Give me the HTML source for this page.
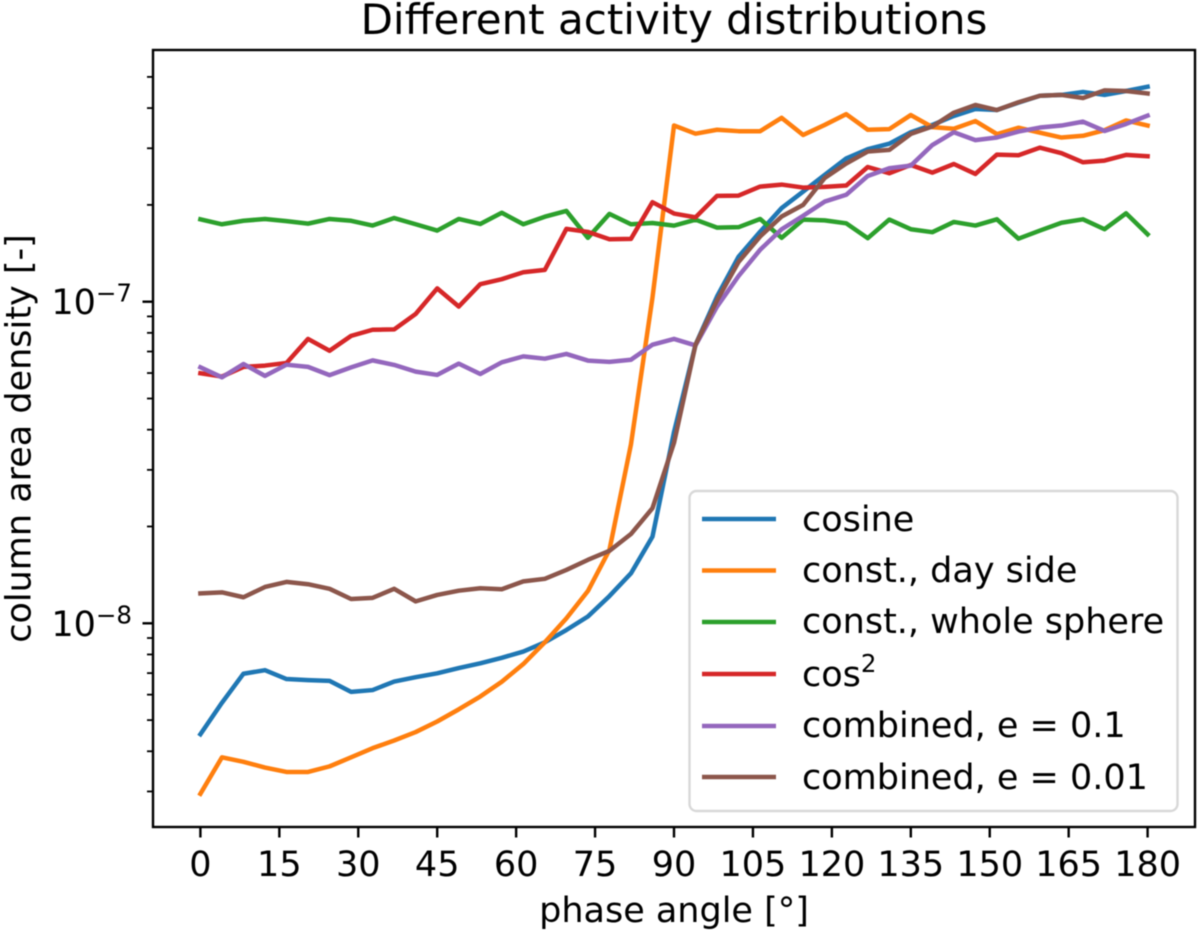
<!DOCTYPE html>
<html>
<head>
<meta charset="utf-8">
<title>Different activity distributions</title>
<style>
html,body{margin:0;padding:0;background:#fff;}
svg{display:block;filter:blur(0.5px);}
text{font-family:"DejaVu Sans","Liberation Sans",sans-serif;fill:#000;}
</style>
</head>
<body>
<svg id="chart" width="1200" height="932" viewBox="0 0 1200 932" xmlns="http://www.w3.org/2000/svg">
  <rect width="1200" height="932" fill="#fff"/>
  <text x="674" y="34" font-size="42" text-anchor="middle">Different activity distributions</text>
  <g id="series-layer"></g>
  <g id="tick-layer"></g>
  <rect x="153" y="50" width="1042" height="777" fill="none" stroke="#000" stroke-width="2.4"/>
  <text x="674" y="922" font-size="35" text-anchor="middle">phase angle [°]</text>
  <text transform="translate(30.5,438.5) rotate(-90)" font-size="35" text-anchor="middle">column area density [-]</text>
  <g>
    <rect x="689.5" y="491" width="488" height="320" rx="7" ry="7" fill="#fff" fill-opacity="0.8" stroke="#d8d8d8" stroke-width="2.4"/>
    <g>
      <line x1="702" x2="776" y1="519" y2="519" stroke="#1f77b4" stroke-width="4.5"/>
      <text x="802" y="531" font-size="35">cosine</text>
    </g>
    <g>
      <line x1="702" x2="776" y1="570.5" y2="570.5" stroke="#ff7f0e" stroke-width="4.5"/>
      <text x="802" y="582" font-size="35">const., day side</text>
    </g>
    <g>
      <line x1="702" x2="776" y1="622" y2="622" stroke="#2ca02c" stroke-width="4.5"/>
      <text x="802" y="633" font-size="35">const., whole sphere</text>
    </g>
    <g>
      <line x1="702" x2="776" y1="674" y2="674" stroke="#d62728" stroke-width="4.5"/>
      <text x="802" y="686" font-size="35">cos<tspan font-size="24.5" dy="-14">2</tspan></text>
    </g>
    <g>
      <line x1="702" x2="776" y1="726" y2="726" stroke="#9467bd" stroke-width="4.5"/>
      <text x="802" y="737" font-size="35">combined, e = 0.1</text>
    </g>
    <g>
      <line x1="702" x2="776" y1="777" y2="777" stroke="#8c564b" stroke-width="4.5"/>
      <text x="802" y="789" font-size="35">combined, e = 0.01</text>
    </g>
  </g>
</svg>
<script>
// Column area density in units of 1e-8, one sample per phase-angle step (180 deg / 44).
const densityUnit = 1e-8;
const phaseStart = 0;
const phaseEnd = 180;
const cosine = [0.452,0.566,0.697,0.715,0.671,0.666,0.662,0.612,0.62,0.659,0.68,0.699,0.726,0.751,0.781,0.817,0.873,0.953,1.05,1.215,1.43,1.86,3.93,7.35,10.38,13.8,16.5,19.55,22,24.8,27.9,29.8,31,33.65,35.45,37.8,39.75,39.45,41.6,43.7,43.95,44.9,43.95,45.2,46.6];
const constDaySide = [0.295,0.383,0.371,0.356,0.345,0.345,0.359,0.383,0.409,0.432,0.459,0.495,0.54,0.592,0.658,0.747,0.873,1.036,1.26,1.69,3.6,10.3,35.3,33.3,34.25,33.9,33.9,37.3,33,35.45,38.3,34.25,34.4,38.05,34.9,34.5,36.45,33.2,34.75,33.55,32.4,32.8,34.15,36.6,35.3];
const constWholeSphere = [18.04,17.41,17.85,18.08,17.8,17.49,18.08,17.85,17.25,18.2,17.41,16.64,18.08,17.45,18.9,17.41,18.38,19.15,15.8,18.75,17.41,17.57,17.24,17.99,17,17.05,18.08,15.8,17.99,17.9,17.53,15.76,18,16.8,16.45,17.7,17.25,18.04,15.7,16.64,17.6,18.04,16.8,18.83,16.2];
const cosSquared = [5.99,5.85,6.27,6.33,6.45,7.66,7.04,7.83,8.18,8.2,9.16,11,9.66,11.34,11.75,12.35,12.56,16.84,16.48,15.64,15.68,20.39,18.8,18.3,21.34,21.38,22.8,23.13,22.64,22.75,22.97,26.23,25.09,26.62,25.2,26.8,24.96,28.67,28.54,30.13,28.96,27.13,27.46,28.6,28.33];
const combinedE01 = [6.25,5.82,6.4,5.88,6.37,6.27,5.91,6.25,6.57,6.36,6.06,5.92,6.42,5.96,6.48,6.76,6.65,6.88,6.56,6.5,6.6,7.35,7.66,7.31,9.66,12.02,14.5,16.8,18.5,20.48,21.5,24.6,26,26.5,30.7,33.65,31.8,32.4,33.8,34.8,35.3,36.3,33.95,35.7,37.9];
const combinedE001 = [1.239,1.248,1.205,1.297,1.345,1.323,1.28,1.19,1.2,1.28,1.17,1.225,1.263,1.285,1.276,1.35,1.375,1.465,1.575,1.68,1.895,2.28,3.64,7.35,10.1,13.3,15.95,18.4,20,24.25,26.9,29.3,29.65,33.25,35.05,38.7,40.9,39.45,41.7,43.7,43.95,43,45.4,45.2,44.4];
const xTickLabels = [0,15,30,45,60,75,90,105,120,135,150,165,180];
const yMajorTicks = [1e-8,1e-7];
const yMajorExponents = ['−8','−7'];
const yMinorTicks = [3e-9,4e-9,5e-9,6e-9,7e-9,8e-9,9e-9,2e-8,3e-8,4e-8,5e-8,6e-8,7e-8,8e-8,9e-8,2e-7,3e-7,4e-7,5e-7];

const SVG_NS = 'http://www.w3.org/2000/svg';
const seriesLayer = document.getElementById('series-layer');
const tickLayer = document.getElementById('tick-layer');

function xScale(angle) {
  return 200.4 + (angle - phaseStart) / (phaseEnd - phaseStart) * 947.2;
}
function yScale(value) {
  return 623.3 - 321.6 * Math.log10(value / 1e-8);
}
function drawSeries(values, color, name) {
  const line = document.createElementNS(SVG_NS, 'polyline');
  const step = (phaseEnd - phaseStart) / (values.length - 1);
  const pts = values.map(function (v, i) {
    return xScale(phaseStart + i * step).toFixed(2) + ',' + yScale(v * densityUnit).toFixed(2);
  });
  line.setAttribute('points', pts.join(' '));
  line.setAttribute('fill', 'none');
  line.setAttribute('stroke', color);
  line.setAttribute('stroke-width', '4.5');
  line.setAttribute('stroke-linejoin', 'round');
  line.setAttribute('stroke-linecap', 'square');
  
  
  seriesLayer.appendChild(line);
}
function drawTick(x1, y1, x2, y2, width, name) {
  const tick = document.createElementNS(SVG_NS, 'line');
  tick.setAttribute('x1', x1);
  tick.setAttribute('y1', y1);
  tick.setAttribute('x2', x2);
  tick.setAttribute('y2', y2);
  tick.setAttribute('stroke', '#000');
  tick.setAttribute('stroke-width', width);
  
  
  tickLayer.appendChild(tick);
}

drawSeries(cosine, '#1f77b4', 'series-cosine');
drawSeries(constDaySide, '#ff7f0e', 'series-const-day-side');
drawSeries(constWholeSphere, '#2ca02c', 'series-const-whole-sphere');
drawSeries(cosSquared, '#d62728', 'series-cos-squared');
drawSeries(combinedE01, '#9467bd', 'series-combined-e-0-1');
drawSeries(combinedE001, '#8c564b', 'series-combined-e-0-01');

xTickLabels.forEach(function (angle) {
  const x = xScale(angle);
  drawTick(x, 827, x, 837.5, 2.4, 'x-tick-mark');
  const label = document.createElementNS(SVG_NS, 'text');
  label.setAttribute('x', x);
  label.setAttribute('y', 876);
  label.setAttribute('font-size', '35');
  label.setAttribute('text-anchor', 'middle');
  
  
  label.textContent = angle;
  tickLayer.appendChild(label);
});
yMinorTicks.forEach(function (value) {
  const y = yScale(value);
  drawTick(147, y, 153, y, 1.8, 'y-minor-tick-mark');
});
yMajorTicks.forEach(function (value, i) {
  const y = yScale(value);
  drawTick(142.5, y, 153, y, 2.4, 'y-major-tick-mark');
  const label = document.createElementNS(SVG_NS, 'text');
  label.setAttribute('x', 132);
  label.setAttribute('y', y + 12.5);
  label.setAttribute('font-size', '35');
  label.setAttribute('text-anchor', 'end');
  
  
  const base = document.createElementNS(SVG_NS, 'tspan');
  base.textContent = '10';
  const power = document.createElementNS(SVG_NS, 'tspan');
  power.setAttribute('font-size', '24.5');
  power.setAttribute('dy', '-12.5');
  power.textContent = yMajorExponents[i];
  label.appendChild(base);
  label.appendChild(power);
  tickLayer.appendChild(label);
});
</script>
</body>
</html>
